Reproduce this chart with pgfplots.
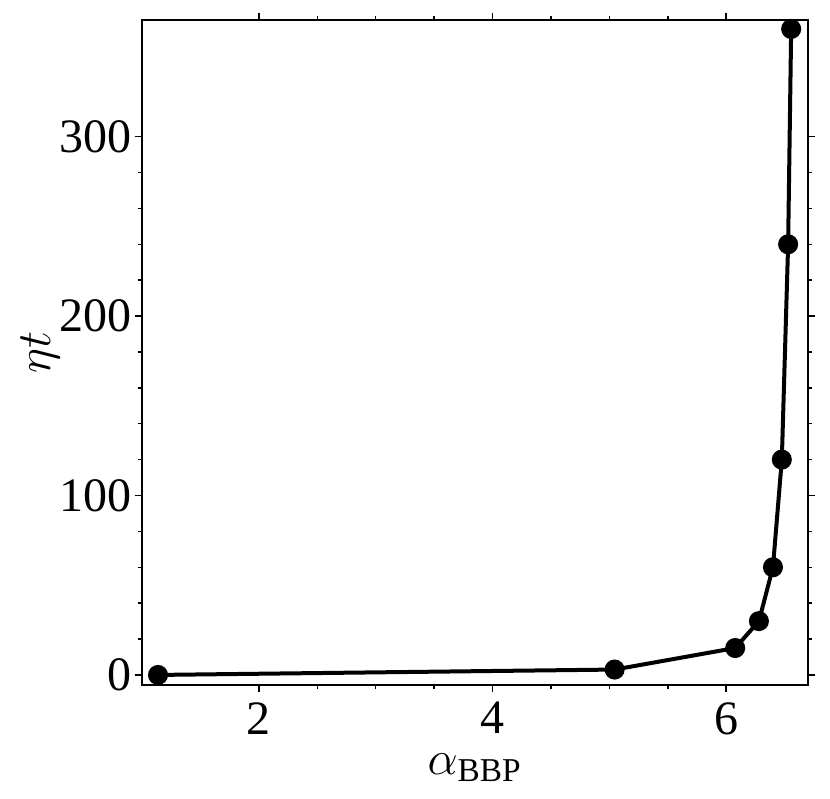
\documentclass[border=0pt]{standalone}
\usepackage{fontspec}
\setmainfont{Liberation Serif}
\usepackage{pgfplots}
\pgfplotsset{compat=1.18}
\begin{document}
\fontsize{14.4}{17}\selectfont
\begin{tikzpicture}
\begin{axis}[
  at={(0pt,0pt)}, anchor=south west,
  width=199.8pt, height=199.5pt, scale only axis,
  xmin=1.0, xmax=6.7, ymin=-5.6, ymax=365,
  xtick={2,4,6}, ytick={0,100,200,300},
  minor x tick num=3, minor y tick num=4,
  tick align=outside, tick pos=both,
  major tick length=2.2pt, minor tick length=1.3pt,
  every tick/.style={black, line width=0.45pt},
  axis line style={line width=0.45pt},
  /pgf/number format/assume math mode=true,
  ticklabel style={font=\fontsize{14.4}{17}\selectfont},
  xticklabel style={yshift=2pt},
  yticklabel style={xshift=4pt},
  xlabel={$\alpha_{\mathrm{BBP}}$},
  ylabel={$\eta t$},
  every axis x label/.style={at={(axis description cs:0.5,-0.124)}, anchor=center, font=\fontsize{14.4}{17}\selectfont},
  every axis y label/.style={at={(axis description cs:-0.152,0.5)}, anchor=center, rotate=89.99, font=\fontsize{14.4}{17}\selectfont},
]
\addplot[black, line width=1.2pt, mark=*, mark size=2.4pt] coordinates {
  (1.137,0) (5.045,3) (6.077,15) (6.28,30) (6.40,60) (6.476,120) (6.53,240) (6.556,360)
};
\end{axis}
\pgfresetboundingbox
\path (-42.6pt,-34.2pt) rectangle (206.4pt,205.5pt);
\end{tikzpicture}
\end{document}
